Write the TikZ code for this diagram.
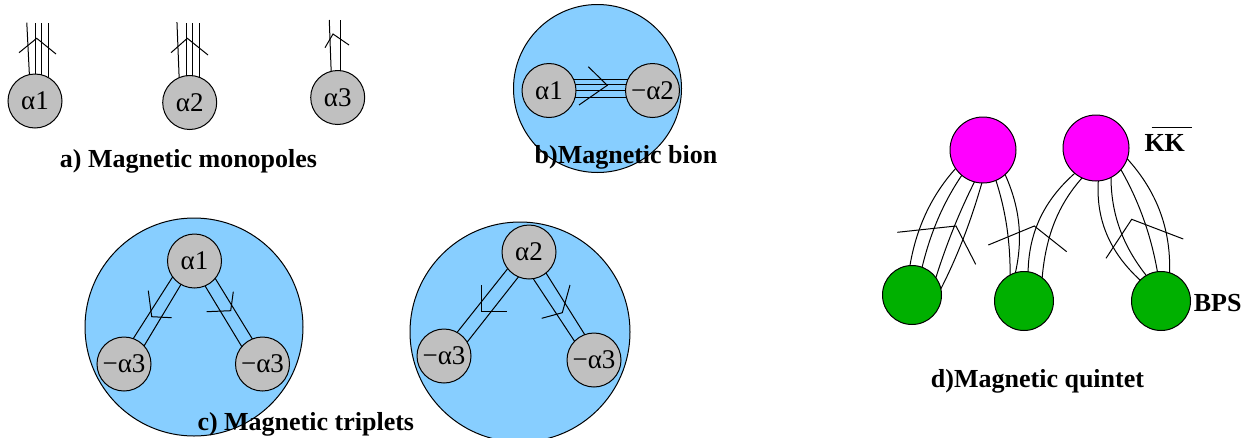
\documentclass[tikz,border=0pt]{standalone}
\usepackage{fontspec}
\setmainfont{Liberation Serif}
\definecolor{xblue}{RGB}{135,206,255}
\definecolor{xgray}{RGB}{192,192,192}
\definecolor{xgreen}{RGB}{0,176,0}
\definecolor{xmag}{RGB}{255,0,255}
\begin{document}
\begin{tikzpicture}[x=1pt,y=-1pt,line width=1pt,
  atom/.style={circle,draw,fill=xgray,minimum size=54pt,inner sep=0pt,outer sep=0pt,font=\fontsize{27}{27}\selectfont},
  bigc/.style={circle,draw,fill=xblue,inner sep=0pt,outer sep=0pt},
  kkc/.style={circle,draw,fill=xmag,minimum size=66pt,inner sep=0pt,outer sep=0pt},
  bpsc/.style={circle,draw,fill=xgreen,minimum size=59pt,inner sep=0pt,outer sep=0pt},
  lab/.style={font=\fontsize{26}{26}\selectfont\bfseries,inner sep=0pt,anchor=base}]
\fill[white] (0,0) rectangle (1248,437);
\useasboundingbox (0,0) rectangle (1248,437);
% ---------- a) monopoles
\node[atom] (a1) at (35,101) {α1};
\node[atom] (a2) at (189.7,102.5) {α2};
\node[atom] (a3) at (337.7,97.5) {α3};
\draw (a1.102) -- ++(-2.6,-52);
\draw (a1.88) -- ++(0,-51.3);
\draw (a1.76) -- ++(0,-52);
\draw (a1.61) -- ++(0,-54);
\draw (19,52.7) -- (36.7,38.3) -- (56,54);
\draw (a2.113) -- ++(-2.2,-55.6);
\draw (a2.96) -- ++(0,-52.6);
\draw (a2.83) -- ++(0,-52.7);
\draw (a2.69) -- ++(0,-54.3);
\draw (171,52.7) -- (187.3,38.3) -- (208,55);
\draw (a3.104) -- ++(-1.9,-51.3);
\draw (a3.85) -- ++(0,-50.6);
\draw (325,47.7) -- (333,34) -- (349,45);
\node[lab] (la) at (188.5,167.5) {a) Magnetic monopoles};
% ---------- b) bion
\node[bigc,minimum size=168pt] (bb) at (597.5,88.5) {};
\node[atom] (b1) at (549,90.5) {α1};
\node[atom] (b2) at (652.5,90.5) {−α2};
\draw (b1.25) -- (b2.155);
\draw (b1.12) -- (b2.168);
\draw (b1.359) -- (b2.181);
\draw (b1.346) -- (b2.194);
\draw (588.3,66.7) -- (607.3,85.3) -- (579,105);
\node[lab] (lb) at (626,163.5) {b)Magnetic bion};
% ---------- c) triplets
\node[bigc,minimum size=218pt] (cl) at (194,327) {};
\node[atom] (c1) at (194.5,261) {α1};
\node[atom] (c2) at (124,364) {−α3};
\node[atom] (c3) at (262.5,364) {−α3};
\draw (c1.216) -- (c2.70);
\draw (c1.240) -- (c2.42);
\draw (c1.293) -- (c3.140);
\draw (c1.320) -- (c3.112);
\draw (148.3,290.7) -- (151.7,316.7) -- (171.7,317.7);
\draw (233.3,291.7) -- (230.7,310.7) -- (206.7,311.7);
\node[bigc,minimum size=220pt] (cr) at (520,332) {};
\node[atom] (d1) at (529,252) {α2};
\node[atom] (d2) at (444,356) {−α3};
\node[atom] (d3) at (594,360) {−α3};
\draw (d1.218) -- (d2.61);
\draw (d1.247) -- (d2.31);
\draw (d1.279) -- (d3.136);
\draw (d1.309) -- (d3.110);
\draw (481.7,285) -- (481.7,311.7) -- (507.3,311.7);
\draw (570,285) -- (562.3,312.7) -- (541.7,318.3);
\node[lab,anchor=base west] (lc) at (197,430.5) {c) Magnetic triplets};
% ---------- d) quintet
\node[kkc] (m1) at (983,150) {};
\node[kkc] (m2) at (1096,148) {};
\node[bpsc] (g1) at (912,295) {};
\node[bpsc] (g2) at (1024,301) {};
\node[bpsc] (g3) at (1161,301) {};
\draw (m1.214) .. controls (930,197) and (916,230) .. (g1.94);
\draw (m1.230) .. controls (943.4,202.4) and (930.6,232.1) .. (g1.70);
\draw (m1.255) .. controls (958.8,213.1) and (946.3,244.7) .. (g1.36);
\draw (m1.268) .. controls (970.8,221.3) and (958,255.1) .. (g1.12);
\draw (m1.293) .. controls (1006,211.5) and (1010.2,242.1) .. (g2.118);
\draw (m1.312) .. controls (1020.5,208.7) and (1022.8,239.9) .. (g2.107);
\draw (m2.230) .. controls (1043.8,200.5) and (1028.8,232.8) .. (g2.82);
\draw (m2.245) .. controls (1057.6,205.4) and (1045.7,237) .. (g2.52);
\draw (m2.274) .. controls (1095.9,219.2) and (1109.3,251.9) .. (g3.135);
\draw (m2.297) .. controls (1111.2,213.3) and (1121.9,244.5) .. (g3.120);
\draw (m2.319) .. controls (1139.3,201.9) and (1151.1,235.8) .. (g3.97);
\draw (m2.341) .. controls (1157.4,192.1) and (1170.8,229.4) .. (g3.73);
\draw (897.3,232.3) -- (956,226) -- (975.7,264.3);
\draw (988.3,245) -- (1034.3,226) -- (1066.7,251.7);
\draw (1106,258.3) -- (1131.7,219.3) -- (1183.3,239);
\node[lab,anchor=base west] (kk) at (1144,151.7) {KK};
\draw ([xshift=7.7pt,yshift=7pt]kk.north west) -- ([xshift=6.7pt,yshift=7pt]kk.north east);
\node[lab,anchor=base west] (bps) at (1193.3,311.7) {BPS};
\node[lab] (ld) at (1037.5,387.3) {d)Magnetic quintet};
\end{tikzpicture}
\end{document}
